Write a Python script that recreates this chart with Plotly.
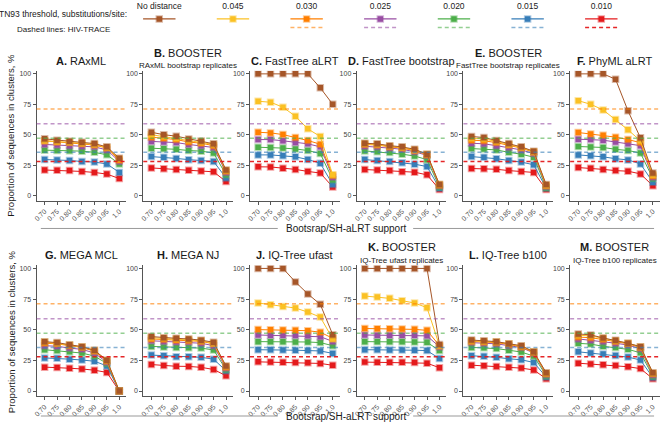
import plotly.graph_objects as go

# x categories (support thresholds)
support = ["0.70", "0.75", "0.80", "0.85", "0.90", "0.95", "1.0"]

# TN93 thresholds, in legend order
thresholds = ["No distance", "0.045", "0.030", "0.025", "0.020", "0.015", "0.010"]
colors = ["#a65628", "#fbc124", "#ff7f00", "#984ea3", "#4daf4a", "#377eb8", "#e41a1c"]

# HIV-TRACE reference values (dashed lines)
hivtrace_thr = ["0.030", "0.025", "0.020", "0.015", "0.010"]
hivtrace_val = [71.2, 58.9, 47.1, 35.6, 27.9]

# panel titles
letters = ["A", "B", "C", "D", "E", "F", "G", "H", "J", "K", "L", "M"]
names = ["RAxML", "BOOSTER", "FastTree aLRT", "FastTree bootstrap", "BOOSTER", "PhyML aLRT",
         "MEGA MCL", "MEGA NJ", "IQ-Tree ufast", "BOOSTER", "IQ-Tree b100", "BOOSTER"]
subtitles = ["", "RAxML bootstrap replicates", "", "", "FastTree bootstrap replicates", "",
             "", "", "", "IQ-Tree ufast replicates", "", "IQ-Tree b100 replicates"]

# values per panel, one list per threshold (same order as thresholds)
raxml = [
    [46.6, 45.5, 44.7, 43.8, 42.7, 40.0, 30.7],
    [45.0, 44.5, 43.8, 43.0, 42.0, 39.5, 30.0],
    [45.0, 44.0, 43.5, 42.5, 41.5, 39.0, 29.0],
    [42.0, 41.5, 41.0, 40.5, 40.0, 37.5, 28.0],
    [37.3, 37.0, 36.8, 36.5, 35.5, 33.5, 26.0],
    [29.6, 29.3, 28.8, 28.0, 27.5, 26.0, 19.0],
    [21.0, 20.8, 20.5, 19.8, 19.0, 17.6, 14.0],
]
booster_raxml = [
    [52.0, 50.0, 48.8, 46.5, 44.8, 42.5, 21.0],
    [50.0, 48.5, 47.0, 45.5, 44.0, 42.0, 20.5],
    [48.0, 47.0, 46.0, 44.0, 43.0, 41.0, 20.0],
    [44.5, 44.0, 43.5, 42.0, 41.0, 39.5, 19.0],
    [38.9, 38.5, 38.0, 37.0, 36.5, 35.0, 17.0],
    [32.0, 31.5, 30.5, 29.5, 28.8, 28.0, 14.5],
    [22.7, 22.0, 21.5, 20.8, 20.2, 19.5, 11.5],
]
fasttree_alrt = [
    [100, 100, 100, 100, 100, 88.5, 75.0],
    [77.5, 76.7, 72.6, 65.2, 54.8, 48.5, 17.0],
    [52.0, 51.5, 50.1, 47.7, 45.2, 42.2, 16.4],
    [46.0, 46.0, 45.0, 43.5, 42.5, 40.0, 15.0],
    [39.7, 39.5, 39.0, 38.3, 37.0, 34.5, 13.0],
    [33.4, 33.4, 32.6, 31.8, 29.6, 26.5, 9.0],
    [23.6, 23.5, 22.5, 21.5, 19.8, 18.5, 7.0],
]
fasttree_boot = [
    [43.0, 42.5, 41.0, 40.0, 38.0, 34.0, 9.0],
    [42.5, 42.0, 40.5, 39.5, 37.5, 34.0, 9.0],
    [42.0, 41.5, 40.0, 39.0, 37.0, 33.5, 8.5],
    [40.5, 40.0, 39.0, 38.0, 36.0, 33.0, 8.0],
    [36.7, 36.0, 35.3, 34.0, 32.5, 29.5, 7.0],
    [29.6, 28.8, 28.0, 27.0, 25.8, 23.8, 6.0],
    [21.4, 21.0, 20.6, 19.6, 19.2, 17.0, 5.0],
]
booster_fasttree = [
    [48.5, 47.7, 45.2, 42.7, 40.0, 36.4, 9.0],
    [47.0, 46.5, 44.5, 42.0, 39.5, 36.0, 8.5],
    [45.5, 45.0, 43.5, 41.5, 39.0, 35.5, 8.0],
    [43.0, 42.5, 41.0, 39.5, 37.5, 34.5, 7.5],
    [38.6, 38.2, 37.5, 35.5, 34.0, 31.5, 6.5],
    [32.0, 31.4, 30.3, 28.8, 27.5, 25.3, 6.0],
    [22.2, 22.0, 21.6, 20.5, 19.7, 19.0, 5.0],
]
phyml_alrt = [
    [100, 100, 100, 95.6, 69.6, 47.4, 18.5],
    [78.0, 75.0, 70.4, 62.5, 54.0, 45.0, 17.0],
    [51.8, 50.5, 49.5, 48.0, 46.0, 43.5, 16.0],
    [46.3, 46.0, 45.5, 44.0, 42.5, 41.0, 15.0],
    [40.3, 39.8, 39.5, 38.0, 37.0, 35.0, 14.0],
    [33.4, 32.8, 31.8, 30.3, 29.3, 26.0, 11.0],
    [23.0, 22.5, 21.5, 20.5, 20.0, 17.8, 8.0],
]
mega_mcl = [
    [40.3, 39.5, 37.8, 36.2, 33.2, 25.2, 0.0],
    [40.0, 39.0, 37.5, 36.0, 33.0, 25.0, 0.0],
    [39.0, 38.5, 37.0, 35.5, 32.5, 24.5, 0.0],
    [37.0, 36.5, 35.0, 34.0, 31.0, 23.5, 0.0],
    [33.7, 33.0, 32.0, 31.0, 28.5, 22.5, 0.0],
    [27.0, 26.8, 26.0, 25.3, 24.3, 20.5, 0.0],
    [19.5, 19.2, 18.6, 18.0, 17.0, 15.2, 0.0],
]
mega_nj = [
    [44.4, 43.5, 43.0, 42.5, 41.5, 39.8, 20.5],
    [43.5, 43.0, 42.5, 42.0, 41.0, 39.0, 20.0],
    [42.5, 42.0, 41.5, 41.0, 40.5, 38.5, 19.5],
    [41.0, 40.5, 40.0, 40.0, 39.0, 37.0, 18.5],
    [36.4, 36.0, 35.5, 35.3, 35.0, 33.5, 17.5],
    [29.3, 28.8, 28.0, 28.0, 27.5, 26.0, 16.5],
    [21.6, 20.8, 20.2, 20.1, 19.3, 17.6, 12.5],
]
iqtree_ufast = [
    [100, 100, 100, 89.0, 79.2, 70.7, 46.0],
    [71.8, 70.4, 69.0, 67.7, 64.4, 60.3, 42.5],
    [50.1, 50.0, 49.8, 49.5, 49.2, 48.0, 43.0],
    [45.7, 45.5, 45.5, 45.3, 45.0, 44.3, 40.5],
    [40.3, 40.3, 40.2, 40.0, 40.0, 39.5, 37.0],
    [33.7, 33.7, 33.5, 33.3, 33.0, 32.7, 30.7],
    [23.8, 23.6, 23.4, 23.2, 23.0, 22.5, 21.0],
]
booster_ufast = [
    [100, 100, 100, 100, 100, 100, 38.0],
    [77.5, 76.7, 75.6, 73.7, 71.8, 68.0, 37.0],
    [51.0, 50.8, 50.8, 50.5, 50.3, 49.5, 37.0],
    [45.7, 45.5, 45.5, 45.5, 45.5, 45.0, 36.0],
    [40.3, 40.3, 40.2, 40.2, 40.0, 39.8, 33.0],
    [33.7, 33.7, 33.5, 33.5, 33.3, 33.0, 26.5],
    [23.6, 23.5, 23.4, 23.4, 23.2, 22.7, 19.0],
]
iqtree_b100 = [
    [41.6, 41.0, 40.3, 38.6, 37.0, 32.0, 15.0],
    [41.0, 40.5, 40.0, 38.5, 36.5, 32.0, 14.5],
    [40.5, 40.0, 39.5, 38.0, 36.0, 31.5, 14.0],
    [39.5, 39.0, 38.5, 37.0, 35.5, 31.0, 13.5],
    [35.6, 35.3, 34.6, 33.3, 31.8, 28.5, 12.5],
    [28.8, 28.4, 27.5, 26.3, 25.5, 23.3, 11.5],
    [21.1, 20.6, 20.1, 19.3, 18.7, 17.2, 10.0],
]
booster_b100 = [
    [46.6, 45.8, 43.3, 41.4, 39.0, 36.2, 15.0],
    [45.5, 45.0, 43.0, 41.0, 39.0, 36.0, 14.5],
    [44.0, 43.5, 42.0, 40.5, 38.5, 35.5, 14.0],
    [42.5, 41.5, 40.5, 39.0, 37.5, 34.5, 13.0],
    [38.9, 38.3, 36.5, 35.5, 34.0, 31.2, 12.0],
    [32.0, 31.0, 30.3, 29.0, 27.7, 25.3, 11.0],
    [22.7, 22.0, 21.5, 20.8, 19.8, 18.3, 10.0],
]

panels = [raxml, booster_raxml, fasttree_alrt, fasttree_boot, booster_fasttree, phyml_alrt,
          mega_mcl, mega_nj, iqtree_ufast, booster_ufast, iqtree_b100, booster_b100]

W, H = 668, 422
FONT = "Liberation Sans, Arial, sans-serif"


def rgba(hex_color, a):
    h = hex_color.lstrip("#")
    return "rgba(%d,%d,%d,%s)" % (int(h[0:2], 16), int(h[2:4], 16), int(h[4:6], 16), a)


def px_x(p):
    return p / W


def px_y(p):
    return 1 - p / H


def label(x, y, text, size, **kw):
    # centred text placed in pixel coordinates of the page
    fig.add_annotation(x=px_x(x), y=px_y(y), xref="paper", yref="paper", text=text,
                       showarrow=False, xanchor=kw.pop("xanchor", "center"), yanchor="middle",
                       font=dict(size=size, color="#1a1a1a"), **kw)


fig = go.Figure()
xs = list(range(len(support)))

# pixel layout of the 2 x 6 grid
row_top = [70, 265]
row_bot = [200, 396]
title_y = [60, 255]
xlab_y = [228, 416]
ylab_y = [134, 331]

for k, data in enumerate(panels):
    row, col = divmod(k, 6)
    n = k + 1
    ax = "" if n == 1 else str(n)
    x0 = 33.7 + 107.2 * col
    x1 = x0 + 90

    fig.update_layout({
        "xaxis" + ax: dict(
            domain=[px_x(x0), px_x(x1)], anchor="y" + ax, range=[-0.65, 6.55],
            tickvals=xs, ticktext=support, tickangle=-45,
            showline=True, linecolor="#555", linewidth=1, ticks="outside", ticklen=3,
            tickcolor="#555", tickfont=dict(size=7, color="#555"), showgrid=False, zeroline=False,
        ),
        "yaxis" + ax: dict(
            domain=[px_y(row_bot[row]), px_y(row_top[row])], anchor="x" + ax, range=[-4.1, 102.5],
            tickvals=[0, 25, 50, 75, 100], showline=True, linecolor="#555", linewidth=1,
            ticks="outside", ticklen=3, tickcolor="#555", tickfont=dict(size=7, color="#444"),
            showgrid=False, zeroline=False,
        ),
    })

    # HIV-TRACE dashed reference lines
    for thr, val in zip(hivtrace_thr, hivtrace_val):
        c = colors[thresholds.index(thr)]
        fig.add_shape(type="line", xref="x" + ax + " domain", yref="y" + ax,
                      x0=0, x1=1, y0=val, y1=val,
                      line=dict(color=rgba(c, 0.95 if thr == "0.010" else 0.6), width=1.5, dash="4px,3px"))

    # series drawn from lowest threshold to "No distance" so brown sits on top
    for i in reversed(range(len(thresholds))):
        c = colors[i]
        fig.add_trace(go.Scatter(
            x=xs, y=data[i], xaxis="x" + ax, yaxis="y" + ax, mode="lines+markers",
            line=dict(color=c, width=1),
            marker=dict(symbol="square", size=5.5, color=c, line=dict(color=rgba(c, 0.4), width=2)),
            showlegend=False, hoverinfo="skip",
        ))

    cx = (x0 + x1) / 2
    title = "<b>%s.</b> %s" % (letters[k], names[k])
    if subtitles[k]:
        label(cx, title_y[row] - 8, title, 11)
        label(cx, title_y[row] + 5, subtitles[k], 8)
    else:
        label(cx, title_y[row], title, 11)

# shared axis titles
for row in range(2):
    label(8, ylab_y[row], "Proportion of sequences in clusters, %", 9.5, textangle=-90)
    label(345, xlab_y[row], "Bootsrap/SH-aLRT support", 10)
    for a, b in [(38, 276), (412, 654)]:
        fig.add_shape(type="line", xref="paper", yref="paper",
                      x0=px_x(a), x1=px_x(b), y0=px_y(xlab_y[row]), y1=px_y(xlab_y[row]),
                      line=dict(color="#999", width=1))

# legend drawn in its own small axis
fig.update_layout(
    xaxis13=dict(domain=[px_x(120), px_x(638)], anchor="y13", range=[-0.5, 6.5], visible=False),
    yaxis13=dict(domain=[px_y(32), 1], anchor="x13", range=[32, 0], visible=False),
)
for i, thr in enumerate(thresholds):
    c = colors[i]
    fig.add_trace(go.Scatter(
        x=[i - 0.22, i + 0.22], y=[18, 18], xaxis="x13", yaxis="y13", mode="lines",
        line=dict(color=c, width=1.2), showlegend=False, hoverinfo="skip"))
    fig.add_trace(go.Scatter(
        x=[i], y=[18], xaxis="x13", yaxis="y13", mode="markers",
        marker=dict(symbol="square", size=5.5, color=c, line=dict(color=rgba(c, 0.4), width=2)),
        showlegend=False, hoverinfo="skip"))
    fig.add_trace(go.Scatter(
        x=[i], y=[5.5], xaxis="x13", yaxis="y13", mode="text", text=[thr],
        textfont=dict(size=8.5, color="#222"), showlegend=False, hoverinfo="skip"))
    if thr in hivtrace_thr:
        fig.add_trace(go.Scatter(
            x=[i - 0.22, i + 0.22], y=[26.5, 26.5], xaxis="x13", yaxis="y13", mode="lines",
            line=dict(color=rgba(c, 0.95 if thr == "0.010" else 0.6), width=1.5, dash="4px,3px"),
            showlegend=False, hoverinfo="skip"))

label(127, 13, "TN93 threshold, substitutions/site:", 8.5, xanchor="right")
label(61, 29, "Dashed lines: HIV-TRACE", 8)

fig.update_layout(
    width=W, height=H, margin=dict(l=0, r=0, t=0, b=0),
    plot_bgcolor="white", paper_bgcolor="white",
    font=dict(family=FONT, color="#222"), showlegend=False,
)

# drop the browser's default body margin so the figure fills the window exactly
fig.write_html("out.html", config={"displayModeBar": False},
               post_script="document.body.style.margin='0';")
